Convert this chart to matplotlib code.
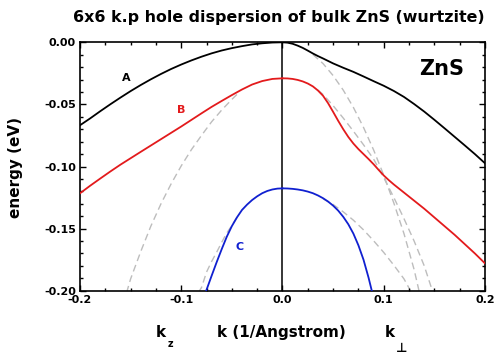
import matplotlib
matplotlib.use('Agg')
import matplotlib.pyplot as plt
from matplotlib.ticker import MultipleLocator, FormatStrFormatter

'''DATA (read off the picture)'''
# band A, k_z side (negative k) and k_perp side (positive k)
kA_z = [0.0, -0.01, -0.02, -0.03, -0.04, -0.05, -0.06, -0.07, -0.08, -0.09, -0.10,
        -0.11, -0.12, -0.13, -0.14, -0.15, -0.16, -0.17, -0.18, -0.19, -0.20]
eA_z = [0.0, -0.0002, -0.0008, -0.0017, -0.0031, -0.0047, -0.0066, -0.0089, -0.0116,
        -0.0146, -0.0179, -0.0215, -0.0255, -0.0298, -0.0344, -0.0393, -0.0445,
        -0.0499, -0.0555, -0.0613, -0.0668]
kA_p = [0.0, 0.005, 0.01, 0.015, 0.02, 0.025, 0.03, 0.035, 0.04, 0.05, 0.06, 0.07,
        0.08, 0.09, 0.10, 0.11, 0.12, 0.13, 0.14, 0.15, 0.16, 0.17, 0.18, 0.19, 0.20]
eA_p = [0.0, -0.0003, -0.0012, -0.0027, -0.0045, -0.0067, -0.0090, -0.0111, -0.0130,
        -0.0170, -0.0205, -0.0238, -0.0275, -0.0313, -0.0350, -0.0392, -0.0440,
        -0.0497, -0.0558, -0.0624, -0.0692, -0.0761, -0.0830, -0.0900, -0.0974]

# band B
kB_z = [0.0, -0.01, -0.02, -0.03, -0.04, -0.05, -0.06, -0.07, -0.08, -0.09, -0.10,
        -0.12, -0.14, -0.16, -0.17, -0.18, -0.19, -0.20]
eB_z = [-0.0290, -0.0295, -0.0312, -0.0340, -0.0380, -0.0425, -0.0472, -0.0520,
        -0.0572, -0.0625, -0.0678, -0.0780, -0.0882, -0.0985, -0.1040, -0.1097,
        -0.1155, -0.1216]
kB_p = [0.0, 0.005, 0.01, 0.015, 0.02, 0.025, 0.03, 0.035, 0.04, 0.045, 0.05, 0.055,
        0.06, 0.065, 0.07, 0.075, 0.08, 0.085, 0.09, 0.095, 0.10, 0.105, 0.11, 0.12,
        0.13, 0.14, 0.15, 0.16, 0.17, 0.18, 0.19, 0.20]
eB_p = [-0.0290, -0.0291, -0.0295, -0.0303, -0.0315, -0.0332, -0.0355, -0.0388,
        -0.0430, -0.0490, -0.0560, -0.0632, -0.0700, -0.0762, -0.0815, -0.0860,
        -0.0900, -0.0940, -0.0982, -0.1028, -0.1072, -0.1110, -0.1145, -0.1210,
        -0.1275, -0.1340, -0.1410, -0.1480, -0.1550, -0.1625, -0.1700, -0.1780]

# band C
kC_z = [0.0, -0.005, -0.01, -0.015, -0.02, -0.025, -0.03, -0.035, -0.04, -0.045,
        -0.05, -0.055, -0.06, -0.065, -0.07, -0.078]
eC_z = [-0.1176, -0.1178, -0.1185, -0.1197, -0.1215, -0.1240, -0.1270, -0.1307,
        -0.1350, -0.1410, -0.1480, -0.1565, -0.1665, -0.1770, -0.1880, -0.2060]
kC_p = [0.0, 0.005, 0.01, 0.015, 0.02, 0.025, 0.03, 0.035, 0.04, 0.045, 0.05, 0.055,
        0.06, 0.065, 0.07, 0.075, 0.08, 0.085, 0.09]
eC_p = [-0.1176, -0.1177, -0.1180, -0.1185, -0.1192, -0.1202, -0.1215, -0.1233,
        -0.1255, -0.1282, -0.1315, -0.1355, -0.1405, -0.1465, -0.1540, -0.1635,
        -0.1750, -0.1895, -0.2060]

# grey dashed (parabolic) approximations
kdB_z = [-0.045, -0.05, -0.06, -0.07, -0.08, -0.09, -0.10, -0.11, -0.12, -0.13,
         -0.14, -0.15, -0.1534]
edB_z = [-0.0420, -0.0460, -0.0545, -0.0640, -0.0750, -0.0865, -0.0995, -0.1140,
         -0.1300, -0.1480, -0.1685, -0.1905, -0.2000]
kdC_z = [-0.045, -0.05, -0.055, -0.06, -0.065, -0.07, -0.075, -0.08, -0.082]
edC_z = [-0.1410, -0.1475, -0.1535, -0.1610, -0.1690, -0.1765, -0.1850, -0.1975, -0.2000]
kdA_p = [0.03, 0.04, 0.05, 0.06, 0.07, 0.08, 0.09, 0.10, 0.11, 0.12, 0.13, 0.1348]
edA_p = [-0.0098, -0.0171, -0.0268, -0.0385, -0.0524, -0.0685, -0.0867, -0.1070,
         -0.1295, -0.1541, -0.1830, -0.2000]
kdB_p = [0.035, 0.04, 0.05, 0.06, 0.07, 0.08, 0.09, 0.10, 0.11, 0.12, 0.13, 0.14, 0.148]
edB_p = [-0.0385, -0.0420, -0.0510, -0.0610, -0.0715, -0.0825, -0.0940, -0.1090,
         -0.1250, -0.1420, -0.1600, -0.1800, -0.2000]
kdC_p = [0.04, 0.05, 0.06, 0.07, 0.08, 0.09, 0.10, 0.11, 0.12, 0.1264]
edC_p = [-0.1260, -0.1306, -0.1365, -0.1432, -0.1510, -0.1598, -0.1692, -0.1795,
         -0.1905, -0.2000]

BLACK = 'black'
RED = '#e31a1c'
BLUE = '#1020d0'
GREY = '#bdbdbd'

'''Plot'''
fig = plt.figure(figsize=(4.98, 3.56), dpi=100)
ax = fig.add_axes([0.1606, 0.1834, 0.8133, 0.6978])

dash = dict(color=GREY, linewidth=1.0, linestyle=(0, (5, 3)), zorder=1)
for k, e in [(kdB_z, edB_z), (kdC_z, edC_z), (kdA_p, edA_p), (kdB_p, edB_p), (kdC_p, edC_p)]:
    ax.plot(k, e, **dash)

ax.plot(kA_z, eA_z, color=BLACK, linewidth=1.3, zorder=3)
ax.plot(kA_p, eA_p, color=BLACK, linewidth=1.3, zorder=3)
ax.plot(kB_z, eB_z, color=RED, linewidth=1.3, zorder=3)
ax.plot(kB_p, eB_p, color=RED, linewidth=1.3, zorder=3)
ax.plot(kC_z, eC_z, color=BLUE, linewidth=1.3, zorder=3)
ax.plot(kC_p, eC_p, color=BLUE, linewidth=1.3, zorder=3)
ax.axvline(0.0, color=BLACK, linewidth=1.1, zorder=2)

ax.set_xlim(-0.2, 0.2)
ax.set_ylim(-0.2, 0.0)
ax.xaxis.set_major_locator(MultipleLocator(0.1))
ax.xaxis.set_minor_locator(MultipleLocator(0.025))
ax.yaxis.set_major_locator(MultipleLocator(0.05))
ax.yaxis.set_minor_locator(MultipleLocator(0.01))
ax.xaxis.set_major_formatter(FormatStrFormatter('%.1f'))
ax.yaxis.set_major_formatter(FormatStrFormatter('%.2f'))
ax.tick_params(which='both', direction='in', top=True, right=True, width=1.0)
ax.tick_params(which='major', length=4.5, labelsize=8, pad=3)
ax.tick_params(which='minor', length=2.5)
for lab in ax.get_xticklabels() + ax.get_yticklabels():
    lab.set_fontweight('bold')
for sp in ax.spines.values():
    sp.set_linewidth(1.2)

ax.text(-0.154, -0.0285, 'A', color=BLACK, fontsize=8, fontweight='bold', ha='center', va='center')
ax.text(-0.1, -0.0545, 'B', color=RED, fontsize=8, fontweight='bold', ha='center', va='center')
ax.text(-0.0425, -0.1645, 'C', color=BLUE, fontsize=8, fontweight='bold', ha='center', va='center')
ax.text(0.157, -0.0215, 'ZnS', color=BLACK, fontsize=15, fontweight='bold', ha='center', va='center')

fig.text(0.56, 0.952, '6x6 k.p hole dispersion of bulk ZnS (wurtzite)', fontsize=11.4,
         fontweight='bold', ha='center', va='center')
fig.text(0.032, 0.53, 'energy (eV)', fontsize=11, fontweight='bold', rotation=90,
         ha='center', va='center')
fig.text(0.566, 0.066, 'k (1/Angstrom)', fontsize=11, fontweight='bold', ha='center', va='center')
fig.text(0.322, 0.066, 'k', fontsize=11, fontweight='bold', ha='center', va='center')
fig.text(0.342, 0.033, 'z', fontsize=7, fontweight='bold', ha='center', va='center')
fig.text(0.782, 0.066, 'k', fontsize=11, fontweight='bold', ha='center', va='center')
fig.text(0.806, 0.022, '\u22a5', fontsize=9, fontweight='bold', ha='center', va='center')

fig.savefig('out.png', dpi=100)
